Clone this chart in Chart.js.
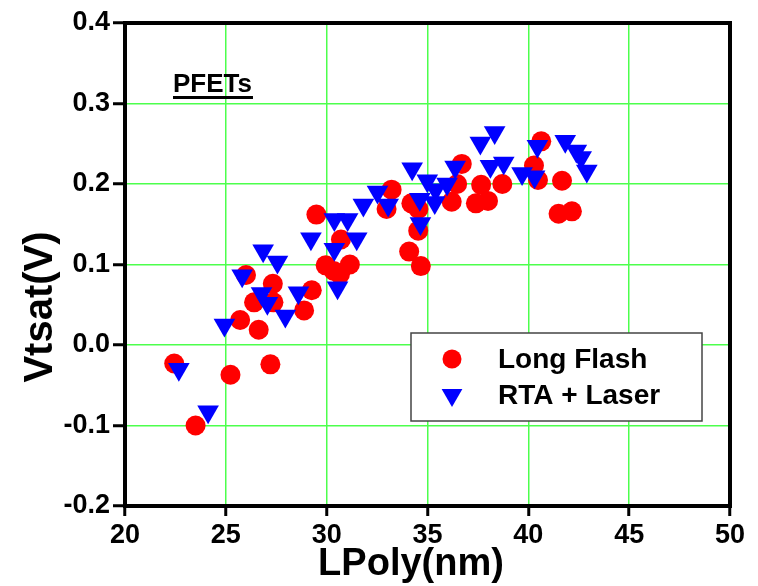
<!DOCTYPE html>
<html>
<head>
<meta charset="utf-8">
<script src="https://cdn.jsdelivr.net/npm/chart.js@4.4.1/dist/chart.umd.min.js"></script>
<style>
  html, body { margin: 0; padding: 0; background: #fff; }
  #wrap { width: 758px; height: 586px; }
</style>
</head>
<body>
<div id="wrap"><canvas id="chart" width="758" height="586"></canvas></div>
<script>
// --- data ---
const xTicks = [20, 25, 30, 35, 40, 45, 50];
const yTicks = [-0.2, -0.1, 0.0, 0.1, 0.2, 0.3, 0.4];

const seriesNames = ['Long Flash', 'RTA + Laser'];
const xTitle = 'LPoly(nm)';
const yTitle = 'Vtsat(V)';

// Long Flash (red circles)
const flashX = [22.44, 23.5, 25.23, 27.21, 25.71, 26.63, 26.0, 26.4, 27.33, 27.36,
  29.26, 28.88, 29.49, 29.95, 30.71, 30.66, 31.15, 30.35, 33.22, 32.97,
  34.2, 34.55, 34.54, 34.09, 34.67, 36.2, 36.47, 36.7, 37.4, 37.66,
  38.0, 38.71, 40.64, 40.28, 40.48, 41.67, 41.5, 42.16];
const flashY = [-0.023, -0.100, -0.037, -0.024, 0.031, 0.019, 0.087, 0.053, 0.076, 0.053,
  0.068, 0.043, 0.162, 0.099, 0.131, 0.088, 0.100, 0.092, 0.193, 0.169,
  0.176, 0.169, 0.142, 0.116, 0.098, 0.178, 0.200, 0.225, 0.176, 0.199,
  0.179, 0.200, 0.253, 0.223, 0.205, 0.204, 0.163, 0.166];

// RTA + Laser (blue down triangles)
const laserX = [22.67, 24.12, 24.93, 25.81, 26.85, 27.56, 26.77, 27.06, 27.95, 28.6,
  29.22, 30.38, 31.04, 31.49, 30.38, 30.54, 31.82, 32.52, 33.05, 34.24,
  34.99, 34.62, 34.65, 35.4, 35.36, 35.97, 36.37, 37.62, 38.33, 38.12,
  38.78, 39.69, 40.31, 40.45, 41.83, 42.38, 42.62, 42.9];
const laserY = [-0.030, -0.083, 0.025, 0.086, 0.117, 0.103, 0.064, 0.052, 0.036, 0.065,
  0.132, 0.156, 0.156, 0.132, 0.119, 0.071, 0.174, 0.190, 0.174, 0.219,
  0.204, 0.181, 0.151, 0.193, 0.177, 0.200, 0.221, 0.251, 0.264, 0.222,
  0.226, 0.213, 0.209, 0.247, 0.253, 0.241, 0.233, 0.216];

const FONT = "'Liberation Sans', Arial, sans-serif";
const gridGreen = '#4cff4c';

function toPoints(xs, ys) {
  return xs.map((x, i) => ({ x: x, y: ys[i] }));
}

// black frame on top and right side of the plot area
const framePlugin = {
  id: 'frame',
  beforeDatasetsDraw(chart) {
    const { ctx, chartArea: a } = chart;
    ctx.save();
    ctx.strokeStyle = '#000';
    ctx.lineWidth = 4;
    ctx.beginPath();
    ctx.moveTo(a.left - 2, a.top);
    ctx.lineTo(a.right, a.top);
    ctx.lineTo(a.right, a.bottom + 2);
    ctx.stroke();
    ctx.restore();
  }
};

// axis titles (off-centre like the original), "PFETs" note and boxed legend
const notePlugin = {
  id: 'note',
  afterDraw(chart) {
    const ctx = chart.ctx;
    ctx.save();
    ctx.fillStyle = '#000';

    ctx.font = 'bold 38px ' + FONT;
    ctx.textAlign = 'center';
    ctx.textBaseline = 'middle';
    ctx.fillText(xTitle, 411, 565);

    ctx.save();
    ctx.translate(41, 307);
    ctx.rotate(-Math.PI / 2);
    ctx.font = 'bold 40px ' + FONT;
    ctx.fillText(yTitle, 0, 0);
    ctx.restore();

    ctx.textAlign = 'left';
    ctx.font = 'bold 26px ' + FONT;
    ctx.textBaseline = 'alphabetic';
    ctx.fillText('PFETs', 173, 92);
    const w = ctx.measureText('PFETs').width;
    ctx.fillRect(173, 96, w + 1, 3);

    // legend box
    const bx = 411, by = 333, bw = 291, bh = 88;
    ctx.fillStyle = '#fff';
    ctx.fillRect(bx, by, bw, bh);
    ctx.strokeStyle = '#444';
    ctx.lineWidth = 1.5;
    ctx.strokeRect(bx, by, bw, bh);

    const rows = [359, 395];
    chart.data.datasets.forEach((ds, i) => {
      ctx.fillStyle = ds.backgroundColor;
      ctx.strokeStyle = ds.backgroundColor;
      Chart.helpers.drawPoint(ctx, {
        pointStyle: ds.pointStyle,
        rotation: ds.rotation || 0,
        radius: ds.pointStyle === 'circle' ? 9.5 : 12,
        borderWidth: 0
      }, 452, rows[i]);
      ctx.fillStyle = '#000';
      ctx.font = 'bold 28px ' + FONT;
      ctx.textBaseline = 'middle';
      ctx.fillText(ds.label, 498, rows[i] + 1);
    });
    ctx.restore();
  }
};

new Chart(document.getElementById('chart'), {
  type: 'scatter',
  data: {
    datasets: [
      {
        label: seriesNames[0],
        data: toPoints(flashX, flashY),
        pointStyle: 'circle',
        pointRadius: 10,
        pointHoverRadius: 10,
        backgroundColor: '#ff0000',
        borderColor: '#ff0000',
        borderWidth: 0,
        order: 1
      },
      {
        label: seriesNames[1],
        data: toPoints(laserX, laserY),
        pointStyle: 'triangle',
        rotation: 180,
        pointRadius: 12.5,
        pointHoverRadius: 12.5,
        backgroundColor: '#0000ff',
        borderColor: '#0000ff',
        borderWidth: 0,
        order: 0
      }
    ]
  },
  options: {
    responsive: false,
    animation: false,
    events: [],
    layout: { padding: { top: 23, right: 28, left: 0, bottom: 0 } },
    plugins: {
      legend: { display: false },
      tooltip: { enabled: false }
    },
    scales: {
      x: {
        type: 'linear',
        min: xTicks[0],
        max: xTicks[xTicks.length - 1],
        afterFit: s => { s.height = 80; },
        afterBuildTicks: s => { s.ticks = xTicks.map(v => ({ value: v })); },
        ticks: {
          color: '#000',
          font: { family: FONT, size: 27, weight: 'bold' },
          padding: 3,
          maxRotation: 0,
          autoSkip: false
        },
        grid: {
          color: gridGreen,
          lineWidth: 1.5,
          tickColor: '#000',
          tickWidth: 3,
          tickLength: 10
        },
        border: { color: '#000', width: 4 },
        title: { display: false }
      },
      y: {
        type: 'linear',
        min: yTicks[0],
        max: yTicks[yTicks.length - 1],
        afterFit: s => { s.width = 125; },
        afterBuildTicks: s => { s.ticks = yTicks.map(v => ({ value: v })); },
        ticks: {
          color: '#000',
          font: { family: FONT, size: 27, weight: 'bold' },
          padding: 3,
          callback: v => Number(v).toFixed(1)
        },
        grid: {
          color: gridGreen,
          lineWidth: 1.5,
          tickColor: '#000',
          tickWidth: 3,
          tickLength: 12
        },
        border: { color: '#000', width: 4 },
        title: { display: false }
      }
    }
  },
  plugins: [framePlugin, notePlugin]
});
</script>
</body>
</html>
